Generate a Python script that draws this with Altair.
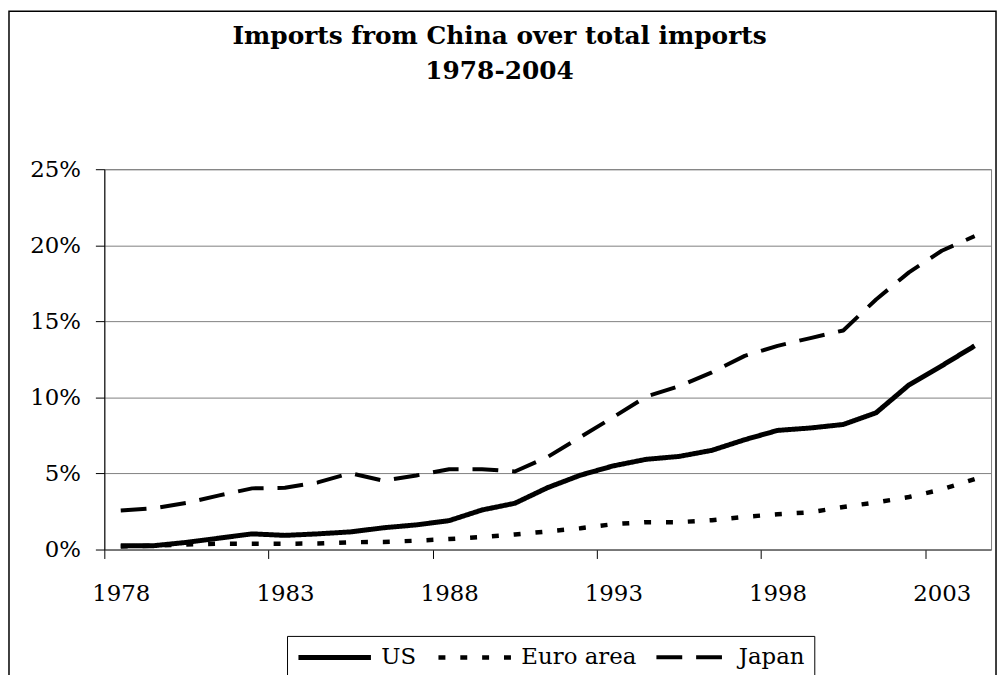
import altair as alt
import pandas as pd

years = list(range(1978, 2005))
us = [0.25, 0.25, 0.47, 0.75, 1.03, 0.93, 1.03, 1.16, 1.43, 1.62, 1.90, 2.60, 3.04, 4.07,
      4.89, 5.50, 5.93, 6.12, 6.52, 7.22, 7.83, 7.99, 8.22, 8.99, 10.82, 12.08, 13.39]
euro = [0.20, 0.25, 0.33, 0.38, 0.38, 0.38, 0.40, 0.48, 0.50, 0.58, 0.69, 0.82, 0.99, 1.19,
        1.40, 1.67, 1.80, 1.80, 1.93, 2.15, 2.32, 2.45, 2.80, 3.10, 3.45, 3.95, 4.63]
japan = [2.56, 2.71, 3.06, 3.56, 4.02, 4.06, 4.41, 5.02, 4.52, 4.87, 5.28, 5.28, 5.13, 6.09,
         7.40, 8.70, 10.05, 10.73, 11.65, 12.73, 13.39, 13.90, 14.40, 16.44, 18.22, 19.64, 20.60]
series_names = ["US", "Euro area", "Japan"]
x_ticks = [1978, 1983, 1988, 1993, 1998, 2003]
y_ticks = [0, 5, 10, 15, 20, 25]

rows = []
for name, vals in zip(series_names, [us, euro, japan]):
    for yr, v in zip(years, vals):
        rows.append({"year": yr, "value": v, "series": name})
df = pd.DataFrame(rows)

FONT = "DejaVu Serif"
W, H = 893, 383
half = W / 27 / 2

lines = alt.Chart(df).mark_line(color="black", strokeCap="butt", strokeJoin="round").encode(
    x=alt.X("year:Q", scale=alt.Scale(domain=[1977.5, 2004.5], nice=False, zero=False),
            axis=alt.Axis(values=x_ticks, format="d", title=None, grid=False,
                          tickOffset=-half, labelOffset=half, tickSize=9, tickColor="black",
                          domainColor="#555555", labelPadding=24, labelFont=FONT,
                          labelFontSize=23, labelColor="black", labelFlush=False)),
    y=alt.Y("value:Q", scale=alt.Scale(domain=[0, 25], nice=False),
            axis=alt.Axis(values=y_ticks, labelExpr="datum.value + '%'", title=None,
                          grid=True, gridColor="#808080", gridWidth=1, tickSize=9,
                          tickColor="black", domainColor="black", labelPadding=15,
                          labelFont=FONT, labelFontSize=23, labelColor="black")),
    strokeDash=alt.StrokeDash("series:N",
                              scale=alt.Scale(domain=series_names,
                                              range=[[1, 0], [7, 15], [26, 14]]),
                              legend=alt.Legend(title=None)),
    strokeWidth=alt.StrokeWidth("series:N",
                                scale=alt.Scale(domain=series_names, range=[5, 4, 4]),
                                legend=alt.Legend(title=None)),
    order=alt.Order("year:Q"),
)

frame = alt.Chart(pd.DataFrame({"k": [0]})).mark_rect(
    fill=None, stroke="black", strokeWidth=1.5
).encode(
    x=alt.value(-96), x2=alt.value(898), y=alt.value(-159), y2=alt.value(700)
)

chart = alt.layer(frame, lines).properties(
    width=W, height=H,
    title=alt.Title(["Imports from China over total imports", "1978-2004"],
                    font=FONT, fontSize=25, fontWeight="bold", color="black",
                    lineHeight=35, anchor="middle", frame="bounds", dx=-3, offset=-73.5),
    autosize=alt.AutoSizeParams(type="none"),
    padding={"left": 97, "top": 160, "right": 7, "bottom": 124},
).configure_view(
    stroke="#808080", strokeWidth=1
).configure_legend(
    orient="none", legendX=184, legendY=470, direction="horizontal",
    strokeColor="black", fillColor="white", padding=9, cornerRadius=0,
    labelFont=FONT, labelFontSize=23, labelColor="black",
    symbolType="M-3.65,0H3.65", symbolSize=400, symbolStrokeColor="black",
    symbolOffset=26.5, labelOffset=34.5, columnPadding=12,
)

chart.save("out.html", embed_options={"renderer": "svg", "actions": False})
